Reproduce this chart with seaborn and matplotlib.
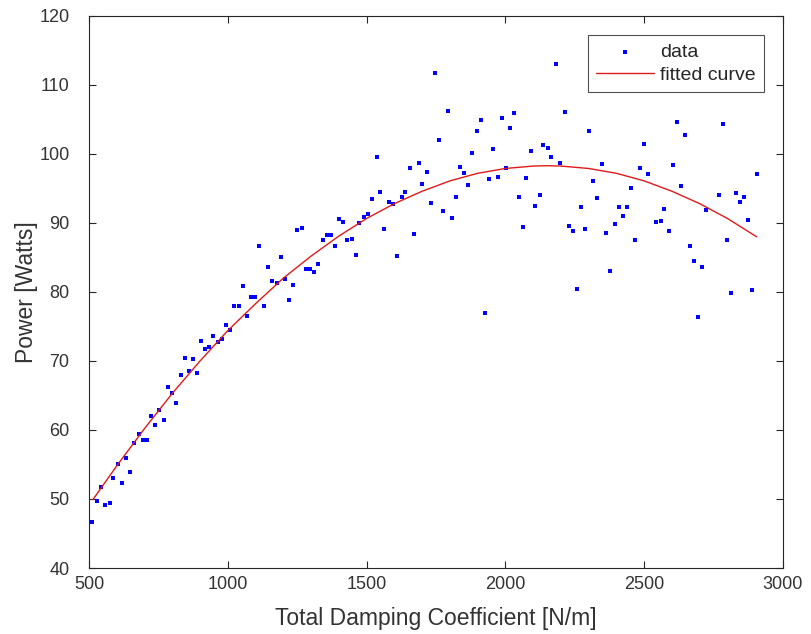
import numpy as np
import pandas as pd
import matplotlib
matplotlib.use("Agg")
import matplotlib.pyplot as plt
import seaborn as sns

damping = [511, 529, 543, 559, 575, 588, 603, 619, 633, 648, 664, 679, 693, 709,
           724, 739, 753, 769, 783, 799, 814, 830, 845, 859, 874, 888, 904, 919, 933,
           948, 965, 979, 995, 1009, 1024, 1040, 1054, 1070, 1083, 1099, 1114, 1129,
           1144, 1159, 1176, 1190, 1205, 1219, 1236, 1250, 1266, 1281, 1296, 1310, 1325,
           1342, 1356, 1371, 1386, 1401, 1416, 1431, 1446, 1461, 1474, 1490, 1505, 1521,
           1536, 1550, 1563, 1581, 1596, 1611, 1626, 1640, 1657, 1671, 1687, 1701, 1716,
           1733, 1747, 1762, 1776, 1792, 1807, 1821, 1837, 1851, 1866, 1881, 1897, 1911,
           1926, 1941, 1957, 1973, 1987, 2001, 2016, 2032, 2048, 2062, 2076, 2091, 2106,
           2123, 2137, 2152, 2166, 2182, 2197, 2213, 2228, 2242, 2258, 2273, 2288, 2302,
           2317, 2331, 2347, 2363, 2378, 2393, 2408, 2422, 2437, 2453, 2468, 2484, 2498,
           2514, 2543, 2559, 2572, 2588, 2603, 2619, 2634, 2648, 2664, 2680, 2694, 2708,
           2722, 2769, 2783, 2799, 2814, 2830, 2844, 2860, 2874, 2888, 2905]
power = [46.6, 49.75, 51.7, 49.2, 49.4, 53.1, 55.0, 52.3, 55.9, 53.9, 58.1, 59.4, 58.6, 58.6,
         62.0, 60.7, 62.9, 61.4, 66.3, 65.4, 63.9, 68.0, 70.4, 68.6, 70.3, 68.3, 72.85, 71.8, 72.0,
         73.6, 72.7, 73.2, 75.2, 74.55, 77.9, 77.9, 80.9, 76.45, 79.3, 79.3, 86.6, 77.9,
         83.65, 81.6, 81.35, 85.0, 81.85, 78.8, 81.0, 89.0, 89.25, 83.4, 83.4, 82.9, 84.1,
         87.6, 88.3, 88.3, 86.6, 90.65, 90.2, 87.6, 87.7, 85.35, 90.0, 90.8, 91.25, 93.5,
         99.6, 94.5, 89.1, 93.0, 92.7, 85.25, 93.7, 94.5, 98.0, 88.4, 98.7, 95.7, 97.4,
         92.9, 111.8, 102.0, 91.7, 106.2, 90.7, 93.7, 98.1, 97.2, 95.5, 100.2, 103.3, 104.9,
         77.0, 96.4, 100.7, 96.6, 105.2, 97.9, 103.8, 105.9, 93.7, 89.4, 96.5, 100.4, 92.45,
         94.1, 101.3, 100.9, 99.6, 113.1, 98.7, 106.1, 89.6, 88.9, 80.5, 92.3, 89.1, 103.3,
         96.1, 93.6, 98.6, 88.6, 83.0, 89.9, 92.3, 91.0, 92.3, 95.1, 87.5, 98.0, 101.5,
         97.1, 90.1, 90.3, 92.0, 88.8, 98.4, 104.7, 95.4, 102.8, 86.6, 84.5, 76.4, 83.6,
         91.9, 94.0, 104.3, 87.6, 79.8, 94.3, 93.0, 93.8, 90.4, 80.3, 97.1]

# fitted curve
fit_x = [514, 600, 700, 800, 900, 1000, 1100, 1200, 1300, 1400, 1500, 1600, 1700,
         1800, 1900, 2000, 2100, 2150, 2200, 2300, 2400, 2500, 2600, 2700, 2800, 2905]
fit_y = [49.9, 54.8, 60.2, 65.3, 70.0, 74.4, 78.3, 82.0, 85.2, 88.1, 90.65, 92.8, 94.6,
         96.1, 97.2, 97.9, 98.25, 98.3, 98.25, 97.9, 97.2, 96.1, 94.6, 92.8, 90.65, 88.0]

x_ticks = [500, 1000, 1500, 2000, 2500, 3000]
y_ticks = [40, 50, 60, 70, 80, 90, 100, 110, 120]

df = pd.DataFrame({"damping": damping, "power": power})
fit_df = pd.DataFrame({"damping": fit_x, "power": fit_y})

sns.set_style("ticks")
plt.rcParams["font.family"] = ["Liberation Sans", "DejaVu Sans"]

fig = plt.figure(figsize=(8.11, 6.34), dpi=100)
ax = fig.add_axes([0.1097, 0.1041, 0.8558, 0.8707])

sns.scatterplot(data=df, x="damping", y="power", ax=ax, color=(0, 0, 1), marker="s",
                s=9, linewidth=0, label="data")
sns.lineplot(data=fit_df, x="damping", y="power", ax=ax, color=(0.88, 0.1, 0.1),
             linewidth=1.0, label="fitted curve", sort=False)

txt = "#333333"
ax.set_xlim(500, 3000)
ax.set_ylim(40, 120)
ax.set_xticks(x_ticks)
ax.set_yticks(y_ticks)
ax.set_xlabel("Total Damping Coefficient [N/m]", fontsize=16.5, color=txt, labelpad=10)
ax.set_ylabel("Power [Watts]", fontsize=16.5, color=txt, labelpad=1)
ax.tick_params(direction="in", length=5, width=0.8, top=True, right=True,
               labelsize=13, colors="#262626", labelcolor=txt)
ax.tick_params(axis="y", pad=14)
ax.tick_params(axis="x", pad=6)
for s in ax.spines.values():
    s.set_visible(True)
    s.set_color("#262626")
    s.set_linewidth(0.8)

leg = ax.legend(loc="upper right", fontsize=14, frameon=True, fancybox=False,
                edgecolor="#262626", borderaxespad=1.0, handlelength=3.0,
                labelspacing=0.3, markerscale=1.0, borderpad=0.4, handletextpad=0.3)
leg.get_frame().set_linewidth(0.8)

fig.savefig("out.png", dpi=100, facecolor="white")
